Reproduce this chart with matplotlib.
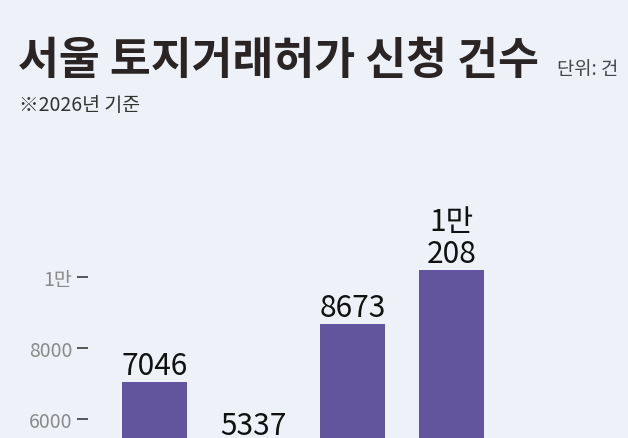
import matplotlib
matplotlib.use("Agg")
import matplotlib.pyplot as plt

plt.rcParams['font.family'] = ['Noto Sans CJK KR', 'DejaVu Sans']

# data
categories = ["A", "B", "C", "D"]
values = [7046, 5337, 8673, 10208]
value_labels = ["7046", "5337", "8673", "1만\n208"]
tick_values = [6000, 8000, 10000]
tick_labels = ["6000", "8000", "1만"]

BG = "#eef2f8"
BAR = "#63559d"

W, H = 628, 439
fig = plt.figure(figsize=(W / 100, H / 100), dpi=100, facecolor=BG)

# axes: left at x=88px, bottom at image edge, 300px tall
ax = fig.add_axes([88 / W, 0, 1 - 88 / W, 300 / H])
ax.set_facecolor(BG)

x = list(range(len(values)))
ax.bar(x, values, width=0.657, color=BAR, zorder=2)
ax.set_xlim(-0.672, 4.783)
ax.set_ylim(5464, 13939)

for xi, v, lab in zip(x, values, value_labels):
    ax.annotate(lab, (xi, v), xytext=(0, 5.8), textcoords="offset points",
                ha="center", va="baseline", fontsize=21.5, color="#111111",
                linespacing=1.05, multialignment="center",
                annotation_clip=False)

for s in ax.spines.values():
    s.set_visible(False)
ax.set_xticks([])
ax.set_yticks(tick_values)
ax.set_yticklabels(tick_labels)
ax.tick_params(axis="y", direction="out", length=8, width=1.4, color="#555555",
               pad=3.5, labelsize=14, labelcolor="#8a8a8a")

fig.text(18 / W, 1 - 74 / H, "서울 토지거래허가 신청 건수", fontsize=32,
         fontweight="bold", color="#2a2524", ha="left", va="baseline")
fig.text(557 / W, 1 - 75 / H, "단위: 건", fontsize=13.5, color="#444444",
         ha="left", va="baseline")
fig.text(19 / W, 1 - 111 / H, "※2026년 기준", fontsize=14, color="#333333",
         ha="left", va="baseline")

fig.savefig("out.png", dpi=100, facecolor=BG)
